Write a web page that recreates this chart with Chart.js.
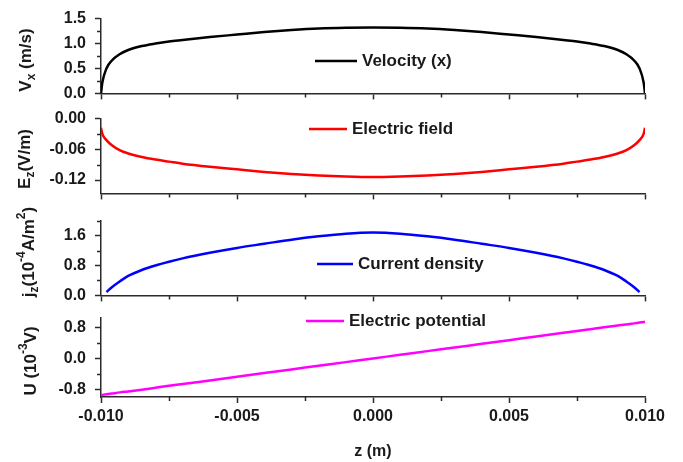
<!DOCTYPE html>
<html>
<head>
<meta charset="utf-8">
<script src="https://cdn.jsdelivr.net/npm/chart.js@4.4.1/dist/chart.umd.min.js"></script>
<style>
  html, body { margin: 0; padding: 0; background: #fff; }
  #wrap { position: relative; width: 683px; height: 462px; overflow: hidden; background: #fff; }
  #wrap canvas { position: absolute; left: 0; }
</style>
</head>
<body>
<div id="wrap">
  <canvas id="pVel"  width="683" height="112" style="top:0px"></canvas>
  <canvas id="pEz"   width="683" height="112" style="top:100px"></canvas>
  <canvas id="pJz"   width="683" height="112" style="top:202px"></canvas>
  <canvas id="pU"    width="683" height="163" style="top:299px"></canvas>
</div>
<script>
// Position along the channel, z (m)
const zPos = [
  -0.01, -0.00995, -0.0098, -0.0096, -0.0093, -0.009, -0.0085, -0.008, -0.0075, -0.007,
  -0.006, -0.005, -0.004, -0.003, -0.002, -0.001, 0,
  0.001, 0.002, 0.003, 0.004, 0.005, 0.006,
  0.007, 0.0075, 0.008, 0.0085, 0.009, 0.0093, 0.0096, 0.0098, 0.00995, 0.01
];

// Velocity (x), m/s
const velocity = [
  0, 0.22, 0.5, 0.66, 0.79, 0.87, 0.95, 1.0, 1.04, 1.07,
  1.13, 1.18, 1.23, 1.27, 1.30, 1.315, 1.32,
  1.315, 1.30, 1.27, 1.23, 1.18, 1.13,
  1.07, 1.04, 1.0, 0.95, 0.87, 0.79, 0.66, 0.5, 0.22, 0
];

// Electric field Ez, V/m
const efield = [
  -0.018, -0.03, -0.042, -0.052, -0.062, -0.068, -0.075, -0.080, -0.084, -0.088,
  -0.094, -0.099, -0.104, -0.108, -0.111, -0.113, -0.114,
  -0.113, -0.111, -0.108, -0.104, -0.099, -0.094,
  -0.088, -0.084, -0.080, -0.075, -0.068, -0.062, -0.052, -0.042, -0.03, -0.018
];

// Current density jz, 10^-4 A/m^2
const current = [
  null, null, 0.09, 0.22, 0.38, 0.52, 0.68, 0.80, 0.90, 0.99,
  1.14, 1.27, 1.38, 1.49, 1.58, 1.65, 1.68,
  1.65, 1.58, 1.49, 1.38, 1.27, 1.14,
  0.99, 0.90, 0.80, 0.68, 0.52, 0.38, 0.22, 0.09, null, null
];

// Electric potential U, 10^-3 V
const potential = [
  -0.95, -0.945, -0.93, -0.91, -0.88, -0.855, -0.81, -0.76, -0.71, -0.665,
  -0.57, -0.475, -0.38, -0.285, -0.19, -0.095, 0,
  0.095, 0.19, 0.285, 0.38, 0.475, 0.57,
  0.665, 0.71, 0.76, 0.81, 0.855, 0.88, 0.91, 0.93, 0.945, 0.95
];

// Axis ticks
const xTicks = [-0.01, -0.005, 0, 0.005, 0.01];
const xTickLabels = ['-0.010', '-0.005', '0.000', '0.005', '0.010'];
const xMinor = [-0.0075, -0.0025, 0.0025, 0.0075];

const velTicks = [0, 0.5, 1.0, 1.5];
const velTickLabels = ['0.0', '0.5', '1.0', '1.5'];
const velMinor = [0.25, 0.75, 1.25];

const ezTicks = [-0.12, -0.06, 0];
const ezTickLabels = ['-0.12', '-0.06', '0.00'];
const ezMinor = [-0.09, -0.03];

const jzTicks = [0, 0.8, 1.6];
const jzTickLabels = ['0.0', '0.8', '1.6'];
const jzMinor = [0.4, 1.2, 2.0];

const uTicks = [-0.8, 0, 0.8];
const uTickLabels = ['-0.8', '0.0', '0.8'];
const uMinor = [-0.4, 0.4];

const FONT = '"Liberation Sans", Arial, Helvetica, sans-serif';
const INK = '#1a1a1a';
const AXIS = '#2a2a2a';

// Draw a run of text segments (with sub/superscripts) rotated to read bottom-to-top
function drawRotatedRich(ctx, segs, cx, cy, size) {
  ctx.save();
  ctx.translate(cx, cy);
  ctx.rotate(-Math.PI / 2);
  ctx.textBaseline = 'middle';
  ctx.textAlign = 'left';
  const small = Math.round(size * 0.68);
  let total = 0;
  segs.forEach(s => {
    ctx.font = 'bold ' + (s.sub || s.sup ? small : size) + 'px ' + FONT;
    s.w = ctx.measureText(s.t).width;
    total += s.w;
  });
  let x = -total / 2;
  segs.forEach(s => {
    ctx.font = 'bold ' + (s.sub || s.sup ? small : size) + 'px ' + FONT;
    const dy = s.sub ? size * 0.32 : (s.sup ? -size * 0.42 : 0);
    ctx.fillText(s.t, x, dy);
    x += s.w;
  });
  ctx.restore();
}

const panelDecor = {
  id: 'panelDecor',
  afterDraw(chart, args, o) {
    const ctx = chart.ctx;
    const xs = chart.scales.x, ys = chart.scales.y;
    ctx.save();
    // minor tick marks
    ctx.strokeStyle = AXIS;
    ctx.lineWidth = 1.5;
    ctx.beginPath();
    o.xMinor.forEach(v => {
      const px = Math.round(xs.getPixelForValue(v)) + 0.5;
      ctx.moveTo(px, xs.top);
      ctx.lineTo(px, xs.top + 4);
    });
    o.yMinor.forEach(v => {
      if (v < ys.min - 1e-9 || v > ys.max + 1e-9) return;
      const py = Math.round(ys.getPixelForValue(v)) + 0.5;
      ctx.moveTo(ys.right, py);
      ctx.lineTo(ys.right - 4, py);
    });
    ctx.stroke();

    // legend entry
    const ds = chart.data.datasets[0];
    const lg = o.legend;
    ctx.strokeStyle = ds.borderColor;
    ctx.lineWidth = 2.5;
    ctx.beginPath();
    ctx.moveTo(lg.x, lg.y);
    ctx.lineTo(lg.x + lg.len, lg.y);
    ctx.stroke();
    ctx.fillStyle = INK;
    ctx.font = 'bold 17px ' + FONT;
    ctx.textBaseline = 'middle';
    ctx.textAlign = 'left';
    ctx.fillText(ds.label, lg.x + lg.len + 5, lg.y);

    // y axis title
    ctx.fillStyle = INK;
    drawRotatedRich(ctx, o.title.segs, o.title.x, o.title.y, 17);

    // x axis title (bottom panel only)
    if (o.xTitle) {
      ctx.font = 'bold 16px ' + FONT;
      ctx.textAlign = 'center';
      ctx.textBaseline = 'middle';
      ctx.fillText(o.xTitle.text, o.xTitle.x, o.xTitle.y);
    }
    ctx.restore();
  }
};

function makePanel(id, p) {
  return new Chart(document.getElementById(id), {
    type: 'line',
    data: {
      datasets: [{
        label: p.label,
        data: zPos.map((z, i) => ({ x: z, y: p.values[i] })),
        borderColor: p.color,
        borderWidth: 2.5,
        pointRadius: 0,
        fill: false,
        cubicInterpolationMode: 'monotone',
        spanGaps: false
      }]
    },
    options: {
      responsive: false,
      animation: false,
      devicePixelRatio: 1,
      layout: { padding: { top: 18, right: 38, left: 0, bottom: 0 } },
      plugins: {
        legend: { display: false },
        tooltip: { enabled: false },
        panelDecor: {
          xMinor: xMinor, yMinor: p.yMinor,
          legend: p.legend, title: p.title, xTitle: p.xTitle
        }
      },
      scales: {
        x: {
          type: 'linear', min: -0.01, max: 0.01,
          afterBuildTicks: s => { s.ticks = xTicks.map(v => ({ value: v })); },
          afterFit: s => { s.height = p.xHeight; },
          grid: { display: true, drawOnChartArea: false, drawTicks: true, tickLength: 6, tickWidth: 1.5, tickColor: AXIS },
          border: { display: true, color: AXIS, width: 1.5 },
          ticks: {
            autoSkip: false, maxRotation: 0, padding: 4, color: INK,
            font: { family: FONT, size: 16, weight: 'bold' },
            callback: (v, i) => p.showX ? xTickLabels[i] : ''
          }
        },
        y: {
          type: 'linear', min: p.min, max: p.max,
          afterBuildTicks: s => { s.ticks = p.ticks.map(v => ({ value: v })); },
          afterFit: s => { s.width = 101; },
          grid: { display: true, drawOnChartArea: false, drawTicks: true, tickLength: 6, tickWidth: 1.5, tickColor: AXIS },
          border: { display: true, color: AXIS, width: 1.5 },
          ticks: {
            autoSkip: false, padding: 9, color: INK,
            font: { family: FONT, size: 16, weight: 'bold' },
            callback: (v, i) => p.tickLabels[i]
          }
        }
      }
    },
    plugins: [panelDecor]
  });
}

makePanel('pVel', {
  label: 'Velocity (x)', values: velocity, color: '#000000',
  min: 0, max: 1.5, ticks: velTicks, tickLabels: velTickLabels, yMinor: velMinor,
  xHeight: 18, showX: false,
  legend: { x: 315, y: 61, len: 42 },
  title: { x: 26, y: 60, segs: [{ t: 'V' }, { t: 'x', sub: true }, { t: ' (m/s)' }] }
});

makePanel('pEz', {
  label: 'Electric field', values: efield, color: '#ff0000',
  min: -0.146, max: 0, ticks: ezTicks, tickLabels: ezTickLabels, yMinor: ezMinor,
  xHeight: 18, showX: false,
  legend: { x: 309, y: 29, len: 38 },
  title: { x: 25, y: 59, segs: [{ t: 'E' }, { t: 'z', sub: true }, { t: '(V/m)' }] }
});

makePanel('pJz', {
  label: 'Current density', values: current, color: '#0000ff',
  min: 0, max: 2.0, ticks: jzTicks, tickLabels: jzTickLabels, yMinor: jzMinor,
  xHeight: 18, showX: false,
  legend: { x: 317, y: 62, len: 36 },
  title: { x: 29, y: 50, segs: [{ t: 'j' }, { t: 'z', sub: true }, { t: '(10' }, { t: '-4', sup: true }, { t: 'A/m' }, { t: '2', sup: true }, { t: ')' }] }
});

makePanel('pU', {
  label: 'Electric potential', values: potential, color: '#ff00ff',
  min: -1.0, max: 1.06, ticks: uTicks, tickLabels: uTickLabels, yMinor: uMinor,
  xHeight: 65, showX: true,
  legend: { x: 306, y: 22, len: 38 },
  title: { x: 31, y: 62, segs: [{ t: 'U (10' }, { t: '-3', sup: true }, { t: 'V)' }] },
  xTitle: { text: 'z (m)', x: 373, y: 153 }
});
</script>
</body>
</html>
